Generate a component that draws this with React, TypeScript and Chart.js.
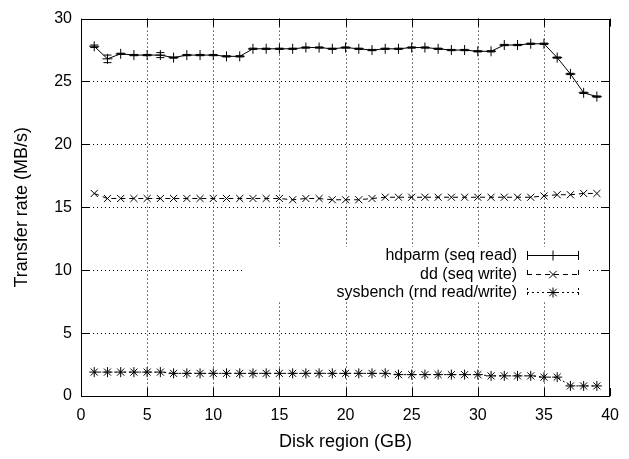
import React, { useEffect, useRef } from "react";
import { Chart, registerables } from "chart.js";

Chart.register(...registerables);

const regions = [1, 2, 3, 4, 5, 6, 7, 8, 9, 10, 11, 12, 13, 14, 15, 16, 17, 18, 19, 20, 21, 22, 23, 24, 25, 26, 27, 28, 29, 30, 31, 32, 33, 34, 35, 36, 37, 38, 39];

const hdparm = [27.8, 26.8, 27.2, 27.1, 27.1, 27.1, 26.9, 27.1, 27.1, 27.1, 27.0, 27.0, 27.6, 27.6, 27.6, 27.6, 27.7, 27.7, 27.6, 27.7, 27.6, 27.5, 27.6, 27.6, 27.7, 27.7, 27.6, 27.5, 27.5, 27.4, 27.4, 27.9, 27.9, 28.0, 28.0, 26.9, 25.6, 24.1, 23.8];
const hdparmErr = [0.1, 0.3, 0.05, 0.05, 0.05, 0.2, 0.05, 0.05, 0.05, 0.05, 0.05, 0.05, 0.05, 0.05, 0.05, 0.05, 0.05, 0.05, 0.05, 0.05, 0.05, 0.05, 0.05, 0.05, 0.05, 0.05, 0.05, 0.05, 0.05, 0.05, 0.05, 0.05, 0.05, 0.05, 0.05, 0.05, 0.05, 0.05, 0.05];

const ddWrite = [16.1, 15.7, 15.7, 15.7, 15.7, 15.7, 15.7, 15.7, 15.7, 15.7, 15.7, 15.7, 15.7, 15.7, 15.7, 15.6, 15.7, 15.7, 15.6, 15.6, 15.6, 15.7, 15.8, 15.8, 15.8, 15.8, 15.8, 15.8, 15.8, 15.8, 15.8, 15.8, 15.8, 15.8, 15.9, 16.0, 16.0, 16.1, 16.1];

const sysbench = [1.9, 1.9, 1.9, 1.9, 1.9, 1.9, 1.8, 1.8, 1.8, 1.8, 1.8, 1.8, 1.8, 1.8, 1.8, 1.8, 1.8, 1.8, 1.8, 1.8, 1.8, 1.8, 1.8, 1.7, 1.7, 1.7, 1.7, 1.7, 1.7, 1.7, 1.6, 1.6, 1.6, 1.6, 1.5, 1.5, 0.8, 0.8, 0.8];

const seriesNames = ["hdparm (seq read)", "dd (seq write)", "sysbench (rnd read/write)"];
const xTicks = [0, 5, 10, 15, 20, 25, 30, 35, 40];
const yTicks = [0, 5, 10, 15, 20, 25, 30];
const xTitle = "Disk region (GB)";
const yTitle = "Transfer rate (MB/s)";

const FONT = "16px 'Liberation Sans', Arial, sans-serif";
const TITLE_FONT = "18px 'Liberation Sans', Arial, sans-serif";

const styles = [
  { dash: [] as number[], point: "cross" },
  { dash: [5, 4], point: "crossRot" },
  { dash: [2, 3], point: "star" },
];

const gnuplotPlugin = {
  id: "gnuplotDecor",
  beforeDatasetsDraw(chart: any) {
    const { ctx, chartArea: a, scales } = chart;
    const xs = scales.x, ys = scales.y;
    ctx.save();
    ctx.strokeStyle = "#000";
    ctx.lineWidth = 1;
    ctx.setLineDash([1, 3]);
    for (const v of xTicks) {
      const px = Math.round(xs.getPixelForValue(v)) + 0.5;
      if (v === 0 || v === 40) continue;
      ctx.beginPath();
      ctx.moveTo(px, a.top);
      ctx.lineTo(px, a.bottom);
      ctx.stroke();
    }
    for (const v of yTicks) {
      const py = Math.round(ys.getPixelForValue(v)) + 0.5;
      if (v === 0 || v === 30) continue;
      ctx.beginPath();
      ctx.moveTo(a.left, py);
      ctx.lineTo(a.right, py);
      ctx.stroke();
    }
    ctx.setLineDash([]);
    // opaque legend region
    ctx.fillStyle = "#fff";
    ctx.fillRect(243, 247, 345, 54);
    ctx.restore();
  },
  afterDatasetsDraw(chart: any) {
    const { ctx, chartArea: a, scales } = chart;
    const xs = scales.x, ys = scales.y;
    ctx.save();
    ctx.strokeStyle = "#000";
    ctx.lineWidth = 1;
    // error bars
    hdparm.forEach((v, i) => {
      const e = hdparmErr[i];
      const px = xs.getPixelForValue(regions[i]);
      const t = ys.getPixelForValue(v + e);
      const b = ys.getPixelForValue(v - e);
      ctx.beginPath();
      ctx.moveTo(px, t);
      ctx.lineTo(px, b);
      ctx.moveTo(px - 4, t);
      ctx.lineTo(px + 4, t);
      ctx.moveTo(px - 4, b);
      ctx.lineTo(px + 4, b);
      ctx.stroke();
    });
    // border box
    ctx.strokeRect(Math.round(a.left) + 0.5, Math.round(a.top) + 0.5, Math.round(a.right - a.left) - 1, Math.round(a.bottom - a.top));
    // inward ticks
    const tl = 8;
    ctx.beginPath();
    for (const v of xTicks) {
      const px = Math.round(xs.getPixelForValue(v)) + 0.5;
      ctx.moveTo(px, a.bottom);
      ctx.lineTo(px, a.bottom - tl);
      ctx.moveTo(px, a.top);
      ctx.lineTo(px, a.top + tl);
    }
    for (const v of yTicks) {
      const py = Math.round(ys.getPixelForValue(v)) + 0.5;
      ctx.moveTo(a.left, py);
      ctx.lineTo(a.left + tl, py);
      ctx.moveTo(a.right, py);
      ctx.lineTo(a.right - tl, py);
    }
    ctx.stroke();
    // legend
    ctx.font = FONT;
    ctx.fillStyle = "#000";
    ctx.textAlign = "right";
    ctx.textBaseline = "middle";
    const rowsY = [255, 274, 292];
    seriesNames.forEach((name, i) => {
      const y = rowsY[i];
      ctx.fillText(name, 517, y + 1);
      ctx.save();
      ctx.setLineDash(styles[i].dash);
      ctx.beginPath();
      ctx.moveTo(527, y + 0.5);
      ctx.lineTo(579, y + 0.5);
      ctx.moveTo(527.5, y - 4);
      ctx.lineTo(527.5, y + 5);
      ctx.moveTo(578.5, y - 4);
      ctx.lineTo(578.5, y + 5);
      ctx.stroke();
      ctx.restore();
      const cx = 553, cy = y + 0.5, r = 5;
      ctx.beginPath();
      if (i === 0 || i === 2) {
        ctx.moveTo(cx - r, cy); ctx.lineTo(cx + r, cy);
        ctx.moveTo(cx, cy - r); ctx.lineTo(cx, cy + r);
      }
      if (i === 1 || i === 2) {
        const d = r * 0.75;
        ctx.moveTo(cx - d, cy - d); ctx.lineTo(cx + d, cy + d);
        ctx.moveTo(cx - d, cy + d); ctx.lineTo(cx + d, cy - d);
      }
      ctx.stroke();
    });
    // axis titles
    ctx.font = TITLE_FONT;
    ctx.textAlign = "center";
    ctx.fillText(xTitle, (a.left + a.right) / 2, 442);
    ctx.save();
    ctx.translate(22, (a.top + a.bottom) / 2);
    ctx.rotate(-Math.PI / 2);
    ctx.fillText(yTitle, 0, 0);
    ctx.restore();
    ctx.restore();
  },
};

export default function App() {
  const ref = useRef<HTMLCanvasElement | null>(null);
  useEffect(() => {
    if (!ref.current) return;
    const mk = (vals: number[], i: number) => ({
      label: seriesNames[i],
      data: regions.map((x, k) => ({ x, y: vals[k] })),
      borderColor: "#000",
      backgroundColor: "#000",
      borderWidth: 1,
      borderDash: styles[i].dash,
      pointStyle: styles[i].point as any,
      pointRadius: 5,
      pointBorderWidth: 1,
      pointBorderColor: "#000",
      tension: 0,
      fill: false,
    });
    const chart = new Chart(ref.current, {
      type: "line",
      data: {
        datasets: [mk(hdparm, 0), mk(ddWrite, 1), mk(sysbench, 2)],
      },
      options: {
        animation: false,
        responsive: false,
        devicePixelRatio: 1,
        layout: { padding: { top: 18, right: 13, left: 0, bottom: 0 } },
        plugins: { legend: { display: false }, tooltip: { enabled: false } },
        scales: {
          x: {
            type: "linear",
            min: 0,
            max: 40,
            afterFit: (s: any) => { s.height = 63; },
            afterBuildTicks: (s: any) => { s.ticks = xTicks.map((v) => ({ value: v })); },
            grid: { display: false, drawTicks: false },
            border: { display: false },
            ticks: { color: "#000", font: { family: "'Liberation Sans', Arial, sans-serif", size: 16 }, padding: 10, maxRotation: 0, autoSkip: false },
          },
          y: {
            type: "linear",
            min: 0,
            max: 30,
            afterFit: (s: any) => { s.width = 81; },
            afterBuildTicks: (s: any) => { s.ticks = yTicks.map((v) => ({ value: v })); },
            grid: { display: false, drawTicks: false },
            border: { display: false },
            ticks: { color: "#000", font: { family: "'Liberation Sans', Arial, sans-serif", size: 16 }, padding: 9, autoSkip: false },
          },
        },
      },
      plugins: [gnuplotPlugin],
    });
    return () => chart.destroy();
  }, []);
  return (
    <div style={{ position: "absolute", left: 0, top: 0, width: 629, height: 459, background: "#fff" }}>
      <canvas ref={ref} width={629} height={459} />
    </div>
  );
}
